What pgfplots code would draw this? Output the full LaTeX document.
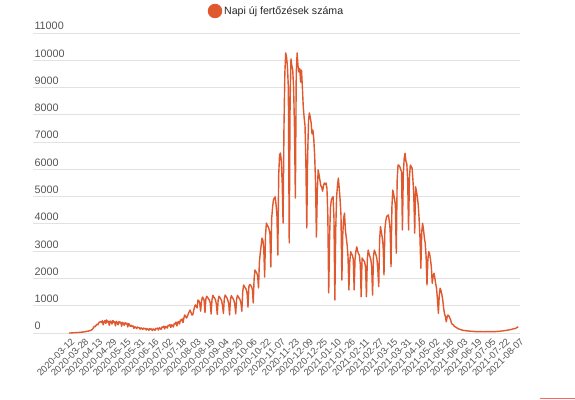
\documentclass[border=0pt]{standalone}
\usepackage{fontspec}
\setmainfont{Liberation Sans}
\usepackage{pgfplots}
\usepackage{pgfplotstable}
\pgfplotsset{compat=1.18}
\definecolor{lineC}{HTML}{E0582D}
\definecolor{gridC}{HTML}{E2E2E2}
\definecolor{labC}{HTML}{555555}
\pgfplotstableread[row sep=\\, header=false]{
0\\0\\0\\5\\5\\10\\10\\12\\15\\15\\20\\20\\25\\25\\30\\30\\35\\40\\45\\
50\\60\\65\\70\\80\\90\\100\\110\\
150\\200\\250\\230\\290\\320\\300\\380\\400\\
420\\380\\450\\300\\410\\460\\350\\
480\\400\\430\\280\\440\\420\\330\\
460\\390\\410\\260\\430\\380\\300\\
420\\370\\400\\250\\390\\350\\280\\
380\\330\\360\\220\\350\\300\\240\\
280\\240\\260\\170\\230\\210\\160\\
220\\190\\200\\140\\190\\170\\130\\
180\\150\\170\\110\\160\\140\\100\\
160\\130\\150\\90\\150\\130\\100\\
170\\150\\180\\110\\190\\170\\130\\
220\\200\\250\\150\\240\\230\\180\\
280\\260\\310\\200\\300\\280\\220\\
350\\330\\400\\260\\390\\420\\330\\
480\\450\\520\\380\\560\\660\\600\\
550\\620\\700\\780\\840\\760\\660\\
660\\800\\950\\1030\\980\\920\\1210\\
1180\\1100\\800\\1150\\1320\\1280\\1200\\
750\\1250\\1350\\1300\\1260\\1200\\1100\\
700\\1220\\1380\\1320\\1280\\1210\\1050\\
680\\1200\\1350\\1300\\1250\\1180\\1000\\
720\\1250\\1390\\1340\\1290\\1200\\1080\\
660\\1210\\1370\\1310\\1260\\1190\\1040\\
700\\1230\\1380\\1330\\1270\\1220\\1090\\
800\\1500\\1760\\1700\\1650\\1600\\1450\\
950\\1700\\1780\\1750\\1700\\1600\\1100\\
2000\\2310\\2250\\2200\\2100\\1650\\
2600\\2930\\3200\\3480\\3400\\3100\\2050\\
3600\\4030\\3950\\3900\\3800\\3670\\2420\\
4200\\4600\\4880\\4950\\4990\\4700\\4300\\2860\\
5800\\6530\\6600\\6300\\5500\\4030\\
7500\\9500\\10270\\10100\\9750\\9000\\3300\\
8500\\10050\\9800\\9640\\9000\\7500\\4950\\
9500\\10270\\9800\\9570\\9700\\9200\\9640\\9000\\8290\\7900\\7600\\6200\\3850\\
6500\\7800\\8070\\7900\\7700\\7300\\7440\\7100\\6500\\5500\\3520\\
5200\\5980\\5800\\5600\\5400\\5350\\5200\\5400\\5500\\5450\\5500\\5300\\4300\\1470\\
3500\\4600\\4880\\4950\\5000\\4200\\1210\\
3800\\5000\\5400\\5680\\5300\\4880\\4300\\1940\\
3600\\4200\\4400\\3780\\3500\\3230\\2800\\1580\\
2600\\2980\\2900\\2850\\2700\\1580\\
2700\\3000\\3160\\3000\\2900\\2850\\2500\\1330\\
2750\\2700\\2650\\2600\\2400\\1330\\
2700\\3040\\2900\\2800\\2700\\2400\\1390\\
2800\\3040\\2950\\2850\\2700\\2300\\1700\\
3400\\3900\\3700\\3500\\3200\\2130\\
3800\\4100\\4270\\4300\\4330\\4100\\3800\\2430\\
4600\\5240\\5100\\4900\\4690\\2930\\
5600\\6160\\6150\\6100\\6000\\5910\\3780\\
5800\\6400\\6590\\6300\\6200\\5600\\3780\\
5700\\6160\\6100\\6050\\5600\\5000\\3660\\
5360\\5200\\5000\\4700\\4200\\3500\\2370\\
3700\\4020\\3800\\3500\\3290\\2800\\1760\\
2700\\2980\\2900\\2700\\2400\\1820\\
2100\\2190\\2000\\1800\\1600\\1200\\720\\
1400\\1640\\1550\\1400\\1200\\900\\700\\600\\410\\
600\\660\\620\\550\\480\\350\\320\\300\\250\\230\\210\\190\\170\\150\\140\\130\\115\\110\\
100\\95\\90\\85\\80\\78\\75\\70\\68\\65\\62\\60\\58\\55\\
50\\48\\52\\45\\50\\47\\52\\50\\48\\45\\50\\52\\48\\50\\47\\50\\52\\48\\50\\45\\50\\48\\52\\50\\
55\\58\\60\\65\\62\\70\\75\\72\\80\\85\\90\\95\\100\\105\\110\\120\\130\\125\\140\\150\\160\\155\\170\\190\\210\\230\\
}\napidata
\begin{document}
\begin{tikzpicture}
\useasboundingbox (0,0) rectangle (575pt,399pt);
\begin{axis}[
  at={(33pt,66pt)}, anchor=south west,
  scale only axis, width=487pt, height=300pt,
  xmin=-41, xmax=514, ymin=0, ymax=11000,
  xtick={0,16,...,512},
  xticklabels={2020-03-12,2020-03-28,2020-04-13,2020-04-29,2020-05-15,2020-05-31,2020-06-16,2020-07-02,2020-07-18,2020-08-03,2020-08-19,2020-09-04,2020-09-20,2020-10-06,2020-10-22,2020-11-07,2020-11-23,2020-12-09,2020-12-25,2021-01-10,2021-01-26,2021-02-11,2021-02-27,2021-03-15,2021-03-31,2021-04-16,2021-05-02,2021-05-18,2021-06-03,2021-06-19,2021-07-05,2021-07-22,2021-08-07},
  ytick={0,1000,...,11000},
  scaled y ticks=false,
  ymajorgrids, grid style={gridC, line width=0.9pt},
  axis line style={draw=none},
  major tick length=0pt,
  yticklabel style={font=\fontsize{10.8}{12}\selectfont, text=labC, anchor=south west, xshift=-2pt, yshift=-0.5pt},
  xticklabel style={font=\fontsize{9.5}{10}\selectfont, text=labC, xshift=4pt, yshift=-7pt, rotate=45, anchor=east, inner sep=0pt},
  /pgf/number format/assume math mode=true,
  /pgf/number format/1000 sep={},
  legend style={at={(axis description cs:0.5,1)}, anchor=center, xshift=0pt, yshift=22pt, draw=none, fill=none, font=\fontsize{10.6}{12}\selectfont, text=black!85},
  legend image code/.code={\fill[lineC] (0pt,0pt) circle (6.5pt);},
]
\addplot[lineC, line width=1.4pt, line join=round, mark=none] table[x expr=\coordindex, y index=0] {\napidata};
\addlegendentry{Napi új fertőzések száma}
\end{axis}
\fill[red!60!white] (540pt,0pt) rectangle (575pt,1.5pt);
\end{tikzpicture}
\end{document}
